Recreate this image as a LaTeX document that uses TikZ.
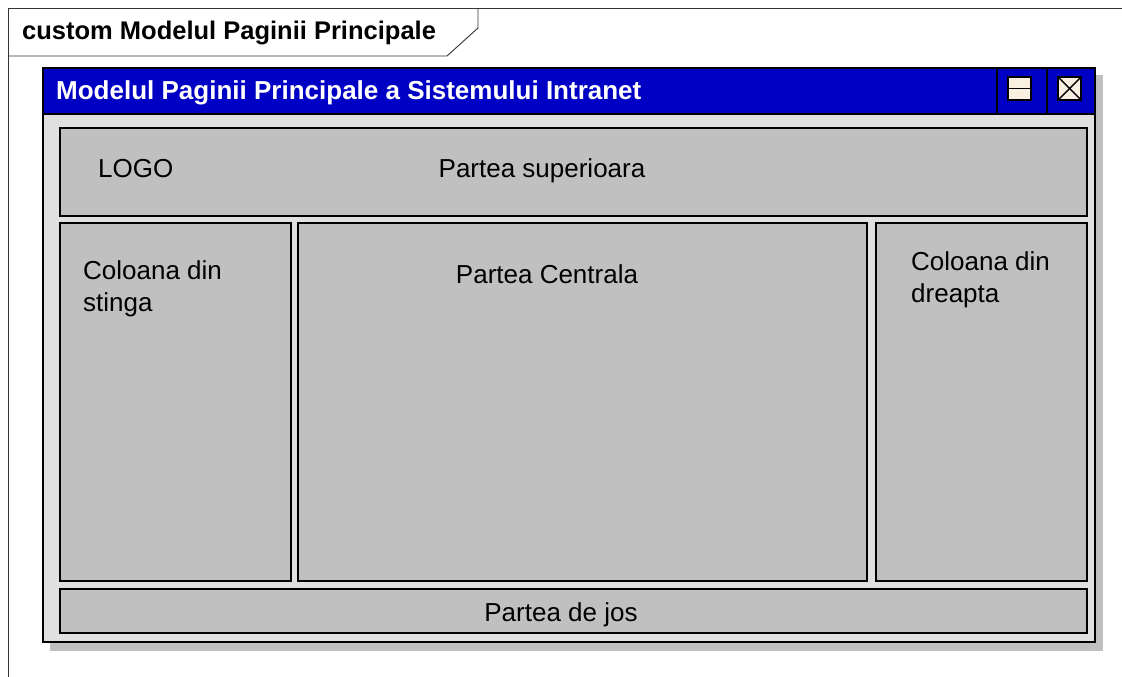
\documentclass[tikz,border=0pt]{standalone}
\usepackage{fontspec}
\setmainfont{Liberation Sans}
\definecolor{titleblue}{RGB}{0,0,196}
\definecolor{bodygray}{RGB}{224,224,224}
\definecolor{panelgray}{RGB}{192,192,192}
\definecolor{iconfill}{RGB}{250,240,225}
\tikzset{
  panel/.style={draw=black, line width=2.4pt, fill=panelgray},
  frameline/.style={draw=black!80, line width=0.9pt},
  txt/.style={font=\fontsize{26}{32}\selectfont, inner sep=0pt, text=black},
  btxt/.style={font=\fontsize{26}{32}\selectfont\bfseries, inner sep=0pt},
}
\begin{document}
\begin{tikzpicture}[x=1pt,y=-1pt]
\useasboundingbox (0,0) rectangle (1122,677);
\fill[white] (0,0) rectangle (1122,677);
% frame
\draw[frameline] (8,677) -- (8,8) -- (1122,8);
\draw[frameline] (8,56) -- (447,56) -- (478,28) -- (478,8);
\node[btxt, font=\fontsize{25.5}{31}\selectfont\bfseries, anchor=west] (tab) at (22,33) {custom Modelul Paginii Principale};
% window shadow
\fill[panelgray] (50,75) rectangle (1103,651);
% window body
\fill[bodygray] (43,68) rectangle (1095,642);
\fill[titleblue] (43,68) rectangle (1095,114);
\draw[black, line width=1.6pt] (43,114) -- (1095,114);
\draw[black, line width=1.6pt] (997,68) -- (997,114);
\draw[black, line width=1.6pt] (1047,68) -- (1047,114);
\draw[black, line width=2.6pt] (43,68) rectangle (1095,642);
\node[btxt, text=white, anchor=west] (title) at (56,92.5) {Modelul Paginii Principale a Sistemului Intranet};
% buttons
\draw[black, line width=1.8pt, fill=iconfill] (1008,77) rectangle (1031,100);
\draw[black, line width=1.8pt] (1008,88.5) -- (1031,88.5);
\draw[black, line width=1.8pt, fill=iconfill] (1058,77) rectangle (1081,100);
\draw[black, line width=1.4pt] (1058,77) -- (1081,100) (1058,100) -- (1081,77);
% panels
\draw[panel] (60,128) rectangle (1087,216);
\draw[panel] (60,223) rectangle (291,581);
\draw[panel] (298,223) rectangle (867,581);
\draw[panel] (876,223) rectangle (1087,581);
\draw[panel] (60,589) rectangle (1087,633);
% texts
\node[txt, anchor=west] (logo) at (98,169) {LOGO};
\node[txt, anchor=base] (sup) at (542,177) {Partea superioara};
\node[txt, anchor=north west, align=left] (lcol) at (83,260) {Coloana din\\stinga};
\node[txt, anchor=base] (cen) at (547,283) {Partea Centrala};
\node[txt, anchor=north west, align=left] (rcol) at (911,251) {Coloana din\\dreapta};
\node[txt, anchor=base] (jos) at (561,621) {Partea de jos};
\end{tikzpicture}
\end{document}
